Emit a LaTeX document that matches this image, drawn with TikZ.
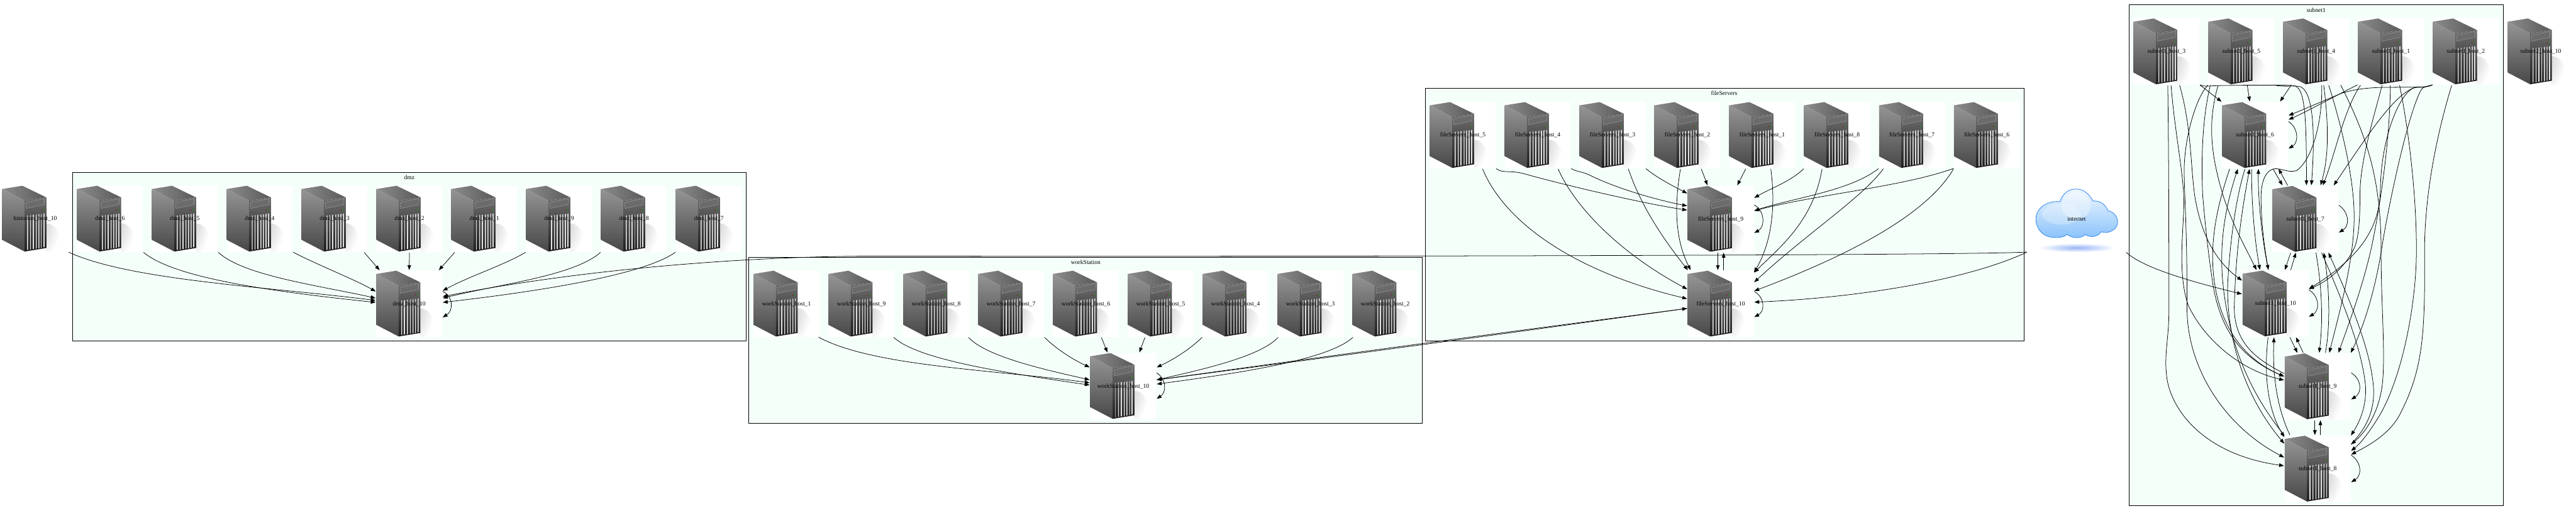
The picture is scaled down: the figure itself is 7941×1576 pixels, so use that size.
\documentclass[tikz,border=0pt]{standalone}
\usepackage{fontspec}
\setmainfont{Liberation Serif}
\usetikzlibrary{arrows.meta, positioning}
\definecolor{cCluster}{RGB}{245, 255, 250}
\definecolor{cCloudLine}{RGB}{62, 143, 240}
\definecolor{cCloudTop}{RGB}{240, 247, 254}
\definecolor{cCloudMid}{RGB}{214, 233, 253}
\definecolor{cCloudLow}{RGB}{140, 195, 251}
\definecolor{cCloudShade}{RGB}{150, 180, 245}

\newcommand{\ventbar}[3]{%
    \shade[top color=black!20, middle color=black!68, bottom color=black!10]
        (tower_origin) ++(#1,#2) -- ++(2.4,-0.8) -- ++(0,#3-#2) -- ++(-2.4,0.8) -- cycle;
}
\newcommand{\towerpicture}{%
    \coordinate (tower_origin) at (path picture bounding box.north west);
    \begin{scope}
        \clip (tower_origin) ++(136,80) rectangle ++(67,124);
        \shade[inner color=black!28, outer color=white] (tower_origin) ++(136,178) ellipse [x radius=44, y radius=62];
    \end{scope}
    \shade[left color=black!45, middle color=black!28, right color=black!65]
        (tower_origin) ++(0,10) -- ++(62,-10) -- ++(74,36) -- ++(-67,10) -- cycle;
    \shade[top color=black!40, bottom color=black!72]
        (tower_origin) ++(0,10) -- ++(69,36) -- ++(0,157) -- ++(-69,-36) -- cycle;
    \shade[top color=black!50, bottom color=black!88]
        (tower_origin) ++(69,46) -- ++(67,-10) -- ++(0,156) -- ++(-67,11) -- cycle;
    \fill[black!58, draw=black!35, line width=0.2pt]
        (tower_origin) ++(73,52) -- ++(57,-12) -- ++(0,18) -- ++(-56,12) -- cycle;
    \fill[red!60!black] (tower_origin) ++(121,75) circle [radius=1.5];
    \fill[green!65!black] (tower_origin) ++(127,74) circle [radius=2];
    \ventbar{77}{92}{198}
    \ventbar{86}{91}{197}
    \ventbar{95}{90}{196}
    \ventbar{104}{89}{194}
    \ventbar{112}{88}{193}
    \ventbar{120}{87}{192}
    \ventbar{128}{86}{190}
}

\begin{document}
\begin{tikzpicture}[
    x=0.01cm, y=-0.01cm,
    font=\fontsize{5.31}{6.4}\selectfont,
    >={Stealth[inset=0pt, length=0.15cm, width=0.11cm]},
    node distance=0.276cm,
    clusterbox/.style={draw=black, line width=0.5pt, fill=cCluster, inner sep=0pt, outer sep=0pt},
    hostbox/.style={
        fill=white,
        minimum width=2.03cm,
        minimum height=2.04cm,
        inner sep=0pt,
        outer sep=0pt,
        path picture={\towerpicture}
    },
    cloudbox/.style={
        minimum width=3.03cm,
        minimum height=2.04cm,
        inner sep=0pt,
        outer sep=0pt
    },
    edgeline/.style={->, line width=0.42pt, shorten <=0.02cm, shorten >=0.02cm}
]
\useasboundingbox (0,0) rectangle (7941,1576);

% clusters
\node[clusterbox, minimum width=20.75cm, minimum height=5.19cm] (dmz) at (1261.5,791.5) {};
\node[clusterbox, minimum width=20.75cm, minimum height=5.12cm] (workStation) at (3346.5,1049) {};
\node[clusterbox, minimum width=18.44cm, minimum height=7.78cm] (fileServers) at (5317,662) {};
\node[clusterbox, minimum width=11.52cm, minimum height=15.44cm] (subnet1) at (7140,787) {};
\node (dmz_title) at (1262,547) {dmz};
\node (workStation_title) at (3347,809) {workStation};
\node (fileServers_title) at (5315,288) {fileServers};
\node (subnet1_title) at (7140,32) {subnet1};

% dmz row
\node[hostbox] (historian_host_10) at (108.5,675) {historian\_host\_10};
\node[hostbox, right=of historian_host_10] (dmz_host_6) {dmz\_host\_6};
\node[hostbox, right=of dmz_host_6] (dmz_host_5) {dmz\_host\_5};
\node[hostbox, right=of dmz_host_5] (dmz_host_4) {dmz\_host\_4};
\node[hostbox, right=of dmz_host_4] (dmz_host_3) {dmz\_host\_3};
\node[hostbox, right=of dmz_host_3] (dmz_host_2) {dmz\_host\_2};
\node[hostbox, right=of dmz_host_2] (dmz_host_1) {dmz\_host\_1};
\node[hostbox, right=of dmz_host_1] (dmz_host_9) {dmz\_host\_9};
\node[hostbox, right=of dmz_host_9] (dmz_host_8) {dmz\_host\_8};
\node[hostbox, right=of dmz_host_8] (dmz_host_7) {dmz\_host\_7};
\node[hostbox] (dmz_host_10) at (1261.5,937) {dmz\_host\_10};

% workStation row
\node[hostbox] (workStation_host_1) at (2424.5,937) {workStation\_host\_1};
\node[hostbox, right=of workStation_host_1] (workStation_host_9) {workStation\_host\_9};
\node[hostbox, right=of workStation_host_9] (workStation_host_8) {workStation\_host\_8};
\node[hostbox, right=of workStation_host_8] (workStation_host_7) {workStation\_host\_7};
\node[hostbox, right=of workStation_host_7] (workStation_host_6) {workStation\_host\_6};
\node[hostbox, right=of workStation_host_6] (workStation_host_5) {workStation\_host\_5};
\node[hostbox, right=of workStation_host_5] (workStation_host_4) {workStation\_host\_4};
\node[hostbox, right=of workStation_host_4] (workStation_host_3) {workStation\_host\_3};
\node[hostbox, right=of workStation_host_3] (workStation_host_2) {workStation\_host\_2};
\node[hostbox] (workStation_host_10) at (3462.5,1191) {workStation\_host\_10};

% fileServers row
\node[hostbox] (fileServers_host_5) at (4509.5,417) {fileServers\_host\_5};
\node[hostbox, right=of fileServers_host_5] (fileServers_host_4) {fileServers\_host\_4};
\node[hostbox, right=of fileServers_host_4] (fileServers_host_3) {fileServers\_host\_3};
\node[hostbox, right=of fileServers_host_3] (fileServers_host_2) {fileServers\_host\_2};
\node[hostbox, right=of fileServers_host_2] (fileServers_host_1) {fileServers\_host\_1};
\node[hostbox, right=of fileServers_host_1] (fileServers_host_8) {fileServers\_host\_8};
\node[hostbox, right=of fileServers_host_8] (fileServers_host_7) {fileServers\_host\_7};
\node[hostbox, right=of fileServers_host_7] (fileServers_host_6) {fileServers\_host\_6};
\node[hostbox] (fileServers_host_9) at (5304.5,675.5) {fileServers\_host\_9};
\node[hostbox] (fileServers_host_10) at (5304.5,937) {fileServers\_host\_10};

% subnet1 row
\node[hostbox] (subnet1_host_3) at (6678.5,159) {subnet1\_host\_3};
\node[hostbox, right=of subnet1_host_3] (subnet1_host_5) {subnet1\_host\_5};
\node[hostbox, right=of subnet1_host_5] (subnet1_host_4) {subnet1\_host\_4};
\node[hostbox, right=of subnet1_host_4] (subnet1_host_1) {subnet1\_host\_1};
\node[hostbox, right=of subnet1_host_1] (subnet1_host_2) {subnet1\_host\_2};
\node[hostbox, right=of subnet1_host_2] (subnet2_host_10) {subnet2\_host\_10};
\node[hostbox] (subnet1_host_6) at (6951.5,417) {subnet1\_host\_6};
\node[hostbox] (subnet1_host_7) at (7106.5,675.5) {subnet1\_host\_7};
\node[hostbox] (subnet1_host_10) at (7014.5,936.5) {subnet1\_host\_10};
\node[hostbox] (subnet1_host_9) at (7144.5,1192) {subnet1\_host\_9};
\node[hostbox] (subnet1_host_8) at (7144.5,1446) {subnet1\_host\_8};

% the cloud, drawn under its node
\begin{scope}[shift={(6250,573)}]
    \shade[inner color=cCloudShade, outer color=white] (153,191) ellipse [x radius=118, y radius=14];
    \path[draw=cCloudLine, line width=0.5pt, top color=cCloudTop, middle color=cCloudMid, bottom color=cCloudLow]
        (26,102) .. controls (26,70) and (60,45) .. (100,49)
        .. controls (110,20) and (130,10) .. (150,10)
        .. controls (172,10) and (190,25) .. (202,47)
        .. controls (225,45) and (242,60) .. (248,77)
        .. controls (265,80) and (278,95) .. (278,112)
        .. controls (278,132) and (255,150) .. (227,142)
        .. controls (215,160) and (190,160) .. (178,150)
        .. controls (172,158) and (160,160) .. (150,160)
        .. controls (140,160) and (128,155) .. (122,150)
        .. controls (110,160) and (95,160) .. (83,159)
        .. controls (50,160) and (26,135) .. (26,102) -- cycle;
    \fill[white, opacity=0.35] (150,62) ellipse [x radius=45, y radius=42];
    \fill[white, opacity=0.25] (105,88) ellipse [x radius=60, y radius=32];
\end{scope}
\node[cloudbox] (internet) at (6401.5,675) {internet};

% dmz edges
\draw[edgeline] (historian_host_10.south east) .. controls (400,865) and (830,885) .. ([yshift=0.10cm]dmz_host_10.west);
\draw[edgeline] (dmz_host_6.south east) .. controls (540,860) and (850,900) .. ([yshift=0.04cm]dmz_host_10.west);
\draw[edgeline] (dmz_host_5.south east) .. controls (750,850) and (980,880) .. ([yshift=0.17cm]dmz_host_10.west);
\draw[edgeline] (dmz_host_4.south east) .. controls (974,815) and (1089,860) .. ([yshift=0.37cm]dmz_host_10.west);
\draw[edgeline] ([xshift=0.90cm]dmz_host_3.south) -- ([xshift=-0.90cm]dmz_host_10.north);
\draw[edgeline] (dmz_host_2.south) -- (dmz_host_10.north);
\draw[edgeline] ([xshift=-0.90cm]dmz_host_1.south) -- ([xshift=0.90cm]dmz_host_10.north);
\draw[edgeline] (dmz_host_9.south west) .. controls (1560,815) and (1440,855) .. ([yshift=0.39cm]dmz_host_10.east);
\draw[edgeline] (dmz_host_8.south west) .. controls (1770,850) and (1550,875) .. ([yshift=0.17cm]dmz_host_10.east);
\draw[edgeline] (dmz_host_7.south west) .. controls (1980,850) and (1650,900) .. ([yshift=0.04cm]dmz_host_10.east);
\draw[edgeline] ([yshift=0.39cm]dmz_host_10.east) .. controls (1398,915) and (1398,958) .. ([yshift=-0.43cm]dmz_host_10.east);
\draw[edgeline] (internet.south west) .. controls (6150,786) and (4500,792) .. (2700,790)
    .. controls (2300,790) and (1800,830) .. ([yshift=0.22cm]dmz_host_10.east);

% workStation edges
\draw[edgeline] ([xshift=0.97cm]workStation_host_1.south) .. controls (2690,1130) and (3060,1140) .. ([yshift=0.10cm]workStation_host_10.west);
\draw[edgeline] ([xshift=0.98cm]workStation_host_9.south) .. controls (2830,1110) and (3100,1150) .. ([yshift=0.03cm]workStation_host_10.west);
\draw[edgeline] ([xshift=0.98cm]workStation_host_8.south) .. controls (3040,1100) and (3220,1140) .. ([yshift=0.19cm]workStation_host_10.west);
\draw[edgeline] (workStation_host_7.south east) .. controls (3260,1080) and (3310,1110) .. ([yshift=0.57cm]workStation_host_10.west);
\draw[edgeline] ([xshift=0.47cm]workStation_host_6.south) -- ([xshift=-0.48cm]workStation_host_10.north);
\draw[edgeline] ([xshift=-0.48cm]workStation_host_5.south) -- ([xshift=0.49cm]workStation_host_10.north);
\draw[edgeline] (workStation_host_4.south west) .. controls (3665,1080) and (3615,1110) .. ([yshift=0.57cm]workStation_host_10.east);
\draw[edgeline] ([xshift=-0.98cm]workStation_host_3.south) .. controls (3885,1100) and (3705,1140) .. ([yshift=0.19cm]workStation_host_10.east);
\draw[edgeline] ([xshift=-0.98cm]workStation_host_2.south) .. controls (4095,1110) and (3825,1150) .. ([yshift=0.06cm]workStation_host_10.east);
\draw[edgeline] ([yshift=0.42cm]workStation_host_10.east) .. controls (3596,1170) and (3596,1210) .. ([yshift=-0.40cm]workStation_host_10.east);
\draw[edgeline] ([yshift=-0.14cm]fileServers_host_10.west) to[bend left=0.2] ([yshift=0.19cm]workStation_host_10.east);
\draw[edgeline] ([yshift=0.19cm]workStation_host_10.east) to[bend left=0.2] ([yshift=-0.14cm]fileServers_host_10.west);

% fileServers edges
\draw[edgeline] ([xshift=0.60cm]fileServers_host_5.south) .. controls (4640,690) and (4860,840) .. ([yshift=0.15cm]fileServers_host_10.west);
\draw[edgeline] (fileServers_host_5.south east) .. controls (4630,535) and (4655,525) .. (4695,535)
    .. controls (4800,565) and (5050,625) .. ([yshift=0.27cm]fileServers_host_9.west);
\draw[edgeline] ([xshift=0.62cm]fileServers_host_4.south) .. controls (4860,650) and (5010,790) .. ([yshift=0.44cm]fileServers_host_10.west);
\draw[edgeline] (fileServers_host_4.south east) .. controls (4860,530) and (4880,530) .. (4900,540)
    .. controls (4980,580) and (5100,615) .. ([yshift=0.40cm]fileServers_host_9.west);
\draw[edgeline] ([xshift=0.48cm]fileServers_host_3.south) .. controls (5060,640) and (5130,740) .. ([xshift=-1.00cm]fileServers_host_10.north);
\draw[edgeline] (fileServers_host_3.south east) .. controls (5110,550) and (5160,575) .. ([yshift=0.78cm]fileServers_host_9.west);
\draw[edgeline] ([xshift=-0.21cm]fileServers_host_2.south) .. controls (5160,640) and (5165,740) .. ([xshift=-0.92cm]fileServers_host_10.north);
\draw[edgeline] ([xshift=0.42cm]fileServers_host_2.south) -- ([xshift=-0.40cm]fileServers_host_9.north);
\draw[edgeline] ([xshift=-0.50cm]fileServers_host_1.south) -- ([xshift=0.50cm]fileServers_host_9.north);
\draw[edgeline] ([xshift=0.26cm]fileServers_host_1.south) .. controls (5475,640) and (5460,750) .. ([yshift=0.95cm]fileServers_host_10.east);
\draw[edgeline] (fileServers_host_8.south west) .. controls (5520,560) and (5460,580) .. ([yshift=0.64cm]fileServers_host_9.east);
\draw[edgeline] ([xshift=-0.46cm]fileServers_host_8.south) .. controls (5590,680) and (5490,760) .. ([yshift=0.95cm]fileServers_host_10.east);
\draw[edgeline] (fileServers_host_7.south west) .. controls (5700,590) and (5530,610) .. ([yshift=0.25cm]fileServers_host_9.east);
\draw[edgeline] ([xshift=-0.87cm]fileServers_host_7.south) .. controls (5740,610) and (5570,720) .. ([yshift=0.65cm]fileServers_host_10.east);
\draw[edgeline] (fileServers_host_6.south west) .. controls (5870,575) and (5600,600) .. ([yshift=0.25cm]fileServers_host_9.east);
\draw[edgeline] (fileServers_host_6.south west) .. controls (5930,680) and (5640,810) .. ([yshift=0.39cm]fileServers_host_10.east);
\draw[edgeline] (internet.south west) .. controls (6050,870) and (5700,920) .. ([yshift=0.05cm]fileServers_host_10.east);
\draw[edgeline] ([yshift=0.44cm]fileServers_host_9.east) .. controls (5441,650) and (5441,700) .. ([yshift=-0.44cm]fileServers_host_9.east);
\draw[edgeline] ([yshift=0.39cm]fileServers_host_10.east) .. controls (5441,918) and (5441,960) .. ([yshift=-0.42cm]fileServers_host_10.east);
\draw[edgeline] ([xshift=-0.09cm]fileServers_host_9.south) -- ([xshift=-0.09cm]fileServers_host_10.north);
\draw[edgeline] ([xshift=0.09cm]fileServers_host_10.north) -- ([xshift=0.09cm]fileServers_host_9.south);

% subnet1 edges from the top row
\draw[edgeline] (subnet1_host_3.south east) -- (subnet1_host_6.north west);
\draw[edgeline] ([xshift=0.04cm]subnet1_host_3.south) .. controls (6686,500) and (6686,800) .. (6686,960)
    .. controls (6686,1040) and (6672,1090) .. (6678,1150)
    .. controls (6684,1250) and (6780,1400) .. ([yshift=0.09cm]subnet1_host_8.west);
\draw[edgeline] ([xshift=0.14cm]subnet1_host_3.south) .. controls (6705,420) and (6735,550) .. (6732,640)
    .. controls (6728,740) and (6715,850) .. (6745,940)
    .. controls (6790,1040) and (6900,1140) .. ([yshift=0.19cm]subnet1_host_9.west);
\draw[edgeline] ([xshift=0.40cm]subnet1_host_3.south) .. controls (6755,390) and (6752,500) .. (6765,600)
    .. controls (6785,730) and (6835,810) .. ([yshift=0.70cm]subnet1_host_10.west);
\draw[edgeline] (subnet1_host_3.south east) .. controls (6795,268) and (6810,265) .. (6840,264)
    .. controls (6950,262) and (7060,262) .. (7070,264)
    .. controls (7105,268) and (7110,350) .. ([xshift=0.035cm]subnet1_host_7.north);
\draw[edgeline] ([xshift=0.18cm]subnet1_host_5.south) -- ([xshift=-0.16cm]subnet1_host_6.north);
\draw[edgeline] (subnet1_host_5.south east) .. controls (7025,268) and (7050,265) .. (7085,266)
    .. controls (7130,270) and (7138,400) .. ([xshift=0.185cm]subnet1_host_7.north);
\draw[edgeline] (subnet1_host_5.south west) .. controls (6770,300) and (6735,420) .. (6733,520)
    .. controls (6733,600) and (6742,680) .. (6742,960)
    .. controls (6745,1130) and (6850,1310) .. ([yshift=0.34cm]subnet1_host_8.west);
\draw[edgeline] ([xshift=-0.95cm]subnet1_host_5.south) .. controls (6790,360) and (6785,480) .. (6790,600)
    .. controls (6800,720) and (6810,800) .. (6822,880)
    .. controls (6845,1010) and (6900,1100) .. ([yshift=0.30cm]subnet1_host_9.west);
\draw[edgeline] ([xshift=-0.71cm]subnet1_host_5.south) .. controls (6810,360) and (6810,450) .. (6845,575)
    .. controls (6870,670) and (6920,760) .. ([xshift=-0.575cm]subnet1_host_10.north);
\draw[edgeline] ([xshift=-0.76cm]subnet1_host_4.south) -- ([xshift=0.76cm]subnet1_host_6.north);
\draw[edgeline] ([xshift=0.23cm]subnet1_host_4.south) .. controls (7178,380) and (7180,480) .. ([xshift=0.465cm]subnet1_host_7.north);
\draw[edgeline] ([xshift=0.17cm]subnet1_host_4.south) .. controls (7160,370) and (7130,490) .. (7080,526)
    .. controls (7060,533) and (7040,523) .. (7023,521)
    .. controls (6985,515) and (6968,560) .. (6970,620)
    .. controls (6972,700) and (6980,760) .. ([xshift=-0.215cm]subnet1_host_10.north);
\draw[edgeline] ([xshift=0.38cm]subnet1_host_4.south) .. controls (7210,360) and (7257,540) .. (7257,667)
    .. controls (7257,800) and (7215,950) .. ([xshift=0.355cm]subnet1_host_9.north);
\draw[edgeline] ([xshift=0.75cm]subnet1_host_4.south) .. controls (7290,410) and (7340,540) .. (7340,770)
    .. controls (7340,950) and (7355,1100) .. (7343,1193)
    .. controls (7330,1280) and (7290,1335) .. ([yshift=0.74cm]subnet1_host_8.east);
\draw[edgeline] (subnet1_host_1.south west) .. controls (7190,300) and (7120,340) .. ([yshift=0.47cm]subnet1_host_6.east);
\draw[edgeline] ([xshift=-0.93cm]subnet1_host_1.south) .. controls (7225,340) and (7200,470) .. ([xshift=0.535cm]subnet1_host_7.north);
\draw[edgeline] ([xshift=-0.02cm]subnet1_host_1.south) .. controls (7368,400) and (7345,600) .. (7311,760)
    .. controls (7285,880) and (7240,1000) .. ([xshift=0.635cm]subnet1_host_9.north);
\draw[edgeline] ([xshift=-0.27cm]subnet1_host_1.south) .. controls (7315,370) and (7275,500) .. (7275,600)
    .. controls (7275,690) and (7270,740) .. (7255,770)
    .. controls (7225,830) and (7170,870) .. ([yshift=0.445cm]subnet1_host_10.east);
\draw[edgeline] ([xshift=0.26cm]subnet1_host_1.south) .. controls (7425,400) and (7449,600) .. (7449,770)
    .. controls (7449,950) and (7400,1180) .. (7330,1290)
    .. controls (7305,1330) and (7280,1365) .. ([yshift=0.54cm]subnet1_host_8.east);
\draw[edgeline] (subnet1_host_2.south west) .. controls (7480,270) and (7460,269) .. (7430,269)
    .. controls (7350,270) and (7290,266) .. (7220,287)
    .. controls (7160,312) and (7100,338) .. ([yshift=0.60cm]subnet1_host_6.east);
\draw[edgeline] (subnet1_host_2.south west) .. controls (7480,270) and (7465,268) .. (7450,268)
    .. controls (7385,285) and (7310,400) .. ([xshift=0.865cm]subnet1_host_7.north);
\draw[edgeline] (subnet1_host_2.south west) .. controls (7480,270) and (7465,268) .. (7445,270)
    .. controls (7400,280) and (7340,420) .. (7338,583)
    .. controls (7336,700) and (7280,790) .. ([yshift=0.445cm]subnet1_host_10.east);
\draw[edgeline] (subnet1_host_2.south west) .. controls (7480,268) and (7470,265) .. (7462,280)
    .. controls (7420,360) and (7360,650) .. (7343,760)
    .. controls (7325,880) and (7290,1000) .. (subnet1_host_9.north east);
\draw[edgeline] ([xshift=-0.43cm]subnet1_host_2.south) .. controls (7510,420) and (7475,600) .. (7474,770)
    .. controls (7476,1030) and (7470,1140) .. (7397,1280)
    .. controls (7365,1340) and (7300,1375) .. ([yshift=0.43cm]subnet1_host_8.east);

% subnet1 edges between the lower hosts
\draw[edgeline] ([xshift=0.545cm]subnet1_host_6.south) -- ([xshift=-0.695cm]subnet1_host_7.north);
\draw[edgeline] ([xshift=-0.305cm]subnet1_host_6.south) .. controls (6890,620) and (6875,750) .. (6868,860)
    .. controls (6860,1000) and (6900,1200) .. ([yshift=0.76cm]subnet1_host_8.west);
\draw[edgeline] ([xshift=-0.775cm]subnet1_host_6.south) .. controls (6840,620) and (6815,720) .. (6822,830)
    .. controls (6832,970) and (6890,1095) .. ([yshift=0.30cm]subnet1_host_9.west);
\draw[edgeline] ([xshift=-0.105cm]subnet1_host_6.south) .. controls (6940,620) and (6950,740) .. ([xshift=-0.475cm]subnet1_host_10.north);
\draw[edgeline] ([xshift=-0.535cm]subnet1_host_7.north) -- ([xshift=0.715cm]subnet1_host_6.south);
\draw[edgeline] ([xshift=-0.445cm]subnet1_host_7.south) -- ([xshift=0.285cm]subnet1_host_10.north);
\draw[edgeline] ([xshift=0.325cm]subnet1_host_7.south) .. controls (7160,900) and (7160,1000) .. ([xshift=0.045cm]subnet1_host_9.north);
\draw[edgeline] ([xshift=0.495cm]subnet1_host_7.south) .. controls (7200,880) and (7280,1060) .. (7292,1190)
    .. controls (7296,1250) and (7275,1300) .. ([yshift=1.01cm]subnet1_host_8.east);
\draw[edgeline] ([xshift=-0.215cm]subnet1_host_10.north) .. controls (6975,750) and (6960,620) .. ([xshift=0.105cm]subnet1_host_6.south);
\draw[edgeline] ([xshift=0.465cm]subnet1_host_10.north) -- ([xshift=-0.285cm]subnet1_host_7.south);
\draw[edgeline] ([xshift=0.435cm]subnet1_host_10.south) -- ([xshift=-0.615cm]subnet1_host_9.north);
\draw[edgeline] ([xshift=-0.225cm]subnet1_host_10.south) .. controls (6975,1180) and (7000,1280) .. ([yshift=0.96cm]subnet1_host_8.west);
\draw[edgeline] ([yshift=0.39cm]subnet1_host_9.west) .. controls (6960,1110) and (6880,1060) .. (6888,930)
    .. controls (6892,800) and (6905,680) .. ([xshift=-0.165cm]subnet1_host_6.south);
\draw[edgeline] ([xshift=0.235cm]subnet1_host_9.north) .. controls (7185,1000) and (7180,880) .. ([xshift=0.565cm]subnet1_host_7.south);
\draw[edgeline] ([xshift=-0.435cm]subnet1_host_9.north) -- ([xshift=0.625cm]subnet1_host_10.south);
\draw[edgeline] ([xshift=-0.085cm]subnet1_host_9.south) -- ([xshift=-0.085cm]subnet1_host_8.north);
\draw[edgeline] (subnet1_host_8.north west) .. controls (6950,1230) and (6890,1100) .. (6865,960)
    .. controls (6840,830) and (6840,700) .. ([xshift=-0.525cm]subnet1_host_6.south);
\draw[edgeline] ([yshift=0.74cm]subnet1_host_8.east) .. controls (7285,1330) and (7320,1280) .. (7317,1200)
    .. controls (7310,1090) and (7255,950) .. ([xshift=0.705cm]subnet1_host_7.south);
\draw[edgeline] ([xshift=0.085cm]subnet1_host_8.north) -- ([xshift=0.085cm]subnet1_host_9.south);
\draw[edgeline] ([xshift=-0.845cm]subnet1_host_8.north) .. controls (7020,1260) and (7005,1160) .. ([xshift=-0.045cm]subnet1_host_10.south);

% self loops and the way in from the internet
\draw[edgeline] ([yshift=0.43cm]subnet1_host_6.east) .. controls (7086,395) and (7086,440) .. ([yshift=-0.42cm]subnet1_host_6.east);
\draw[edgeline] ([yshift=0.435cm]subnet1_host_7.east) .. controls (7243,655) and (7243,698) .. ([yshift=-0.425cm]subnet1_host_7.east);
\draw[edgeline] ([yshift=0.435cm]subnet1_host_10.east) .. controls (7151,915) and (7151,958) .. ([yshift=-0.415cm]subnet1_host_10.east);
\draw[edgeline] ([yshift=0.43cm]subnet1_host_9.east) .. controls (7281,1170) and (7281,1212) .. ([yshift=-0.41cm]subnet1_host_9.east);
\draw[edgeline] ([yshift=0.43cm]subnet1_host_8.east) .. controls (7281,1425) and (7281,1468) .. ([yshift=-0.42cm]subnet1_host_8.east);
\draw[edgeline] (internet.south east) .. controls (6610,830) and (6780,875) .. ([yshift=0.29cm]subnet1_host_10.west);

\end{tikzpicture}
\end{document}
